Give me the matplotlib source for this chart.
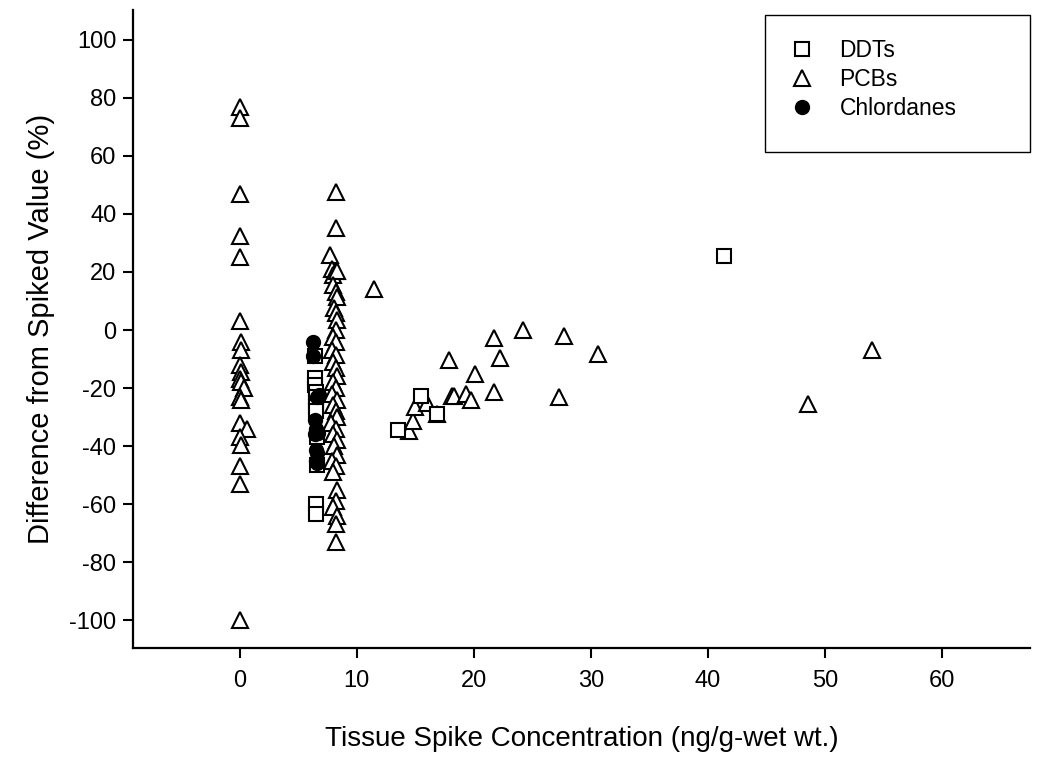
import matplotlib
matplotlib.use("Agg")
import matplotlib.pyplot as plt
from matplotlib.patches import Rectangle

plt.rcParams['font.family'] = ['Liberation Sans', 'DejaVu Sans']

# ---- data ----
ddt_x = [6.4, 6.4, 6.4, 6.5, 6.5, 6.5, 6.5, 6.6, 6.6, 6.5, 6.5, 13.5, 15.5, 16.9, 41.4]
ddt_y = [-9, -16.5, -19, -21.5, -23, -26.5, -28, -37, -46.5, -60, -63.5, -34.5, -22.6, -29, 25.5]

chl_x = [6.3, 6.3, 6.8, 6.6, 6.4, 6.5, 6.7, 6.4, 6.5, 6.6, 6.5, 6.6]
chl_y = [-4.2, -9, -22.5, -23, -31, -34, -35.5, -36, -41.5, -42.5, -45, -46]

pcb_x = [0, 0, 0, 0, 0, 0, 0.1, 0.1, 0, 0.1, 0, 0.1, 0.4, 0, 0.1, 0, 0.6, 0, 0.1, 0, 0, 0,
         8.2, 8.2, 7.7, 7.9, 8.2, 8.0, 8.3, 8.0, 8.2, 8.3, 8.1, 8.2, 8.3, 8.2, 8.0, 8.2,
         7.9, 8.2, 8.0, 8.2, 8.3, 8.0, 8.2, 7.9, 8.3, 8.0, 8.2, 8.3, 7.8, 8.2, 8.0, 8.3,
         8.1, 8.3, 7.9, 8.2, 8.0, 8.3, 8.2, 8.0, 8.3, 8.2, 8.2,
         11.5, 14.5, 14.8, 15.0, 16.0, 16.9, 17.9, 18.1, 18.3, 19.3, 19.8, 20.1, 21.7,
         21.7, 22.2, 24.2, 27.3, 27.7, 30.6, 48.5, 54.0]
pcb_y = [77, 73, 47, 32.5, 25, 3, -4, -7, -12, -14.5, -17, -18, -20, -23, -24, -32, -34,
         -37, -39.5, -47, -53, -100,
         47.5, 35, 26, 21, 20.5, 19, 20.5, 15.5, 13, 11.5, 7.5, 6, 3.5, 0, -2.5, -4,
         -7, -8.5, -11, -13, -16, -18, -20, -22, -24, -26, -28, -30, -32, -34, -36, -38,
         -40, -43, -45, -47, -49, -55, -59, -61, -64, -67, -73,
         14, -34.8, -31.3, -26.4, -25.1, -29, -10.3, -22.8, -22.8, -22.2, -24.1, -15.2,
         -2.9, -21.3, -9.8, 0, -23, -2.1, -8.3, -25.5, -6.9]

series_names = ['DDTs', 'PCBs', 'Chlordanes']
xlabel = 'Tissue Spike Concentration (ng/g-wet wt.)'
ylabel = 'Difference from Spiked Value (%)'
xticks = [0, 10, 20, 30, 40, 50, 60]
yticks = [100, 80, 60, 40, 20, 0, -20, -40, -60, -80, -100]

W, H = 1039, 758
fig = plt.figure(figsize=(W/100, H/100), dpi=100)
ax = fig.add_axes([133/W, 1-648/H, (1030-133)/W, (648-10)/H])

ax.plot(ddt_x, ddt_y, linestyle='none', marker='s', markersize=10,
        markerfacecolor='white', markeredgecolor='black', markeredgewidth=1.5,
        label=series_names[0], zorder=3)
ax.plot(pcb_x, pcb_y, linestyle='none', marker='^', markersize=11,
        markerfacecolor='white', markeredgecolor='black', markeredgewidth=1.5,
        label=series_names[1], zorder=2)
ax.plot(chl_x, chl_y, linestyle='none', marker='o', markersize=10,
        markerfacecolor='black', markeredgecolor='black', markeredgewidth=1.0,
        label=series_names[2], zorder=4)

ax.set_xlim(-9.1, 67.5)
ax.set_ylim(-109.6, 110.3)
ax.set_xticks(xticks)
ax.set_yticks(yticks)
ax.set_yticklabels([str(t) for t in yticks])

for s in ['top', 'right']:
    ax.spines[s].set_visible(False)
for s in ['left', 'bottom']:
    ax.spines[s].set_linewidth(1.6)

ax.tick_params(axis='both', direction='out', length=7, width=1.5, labelsize=17)
ax.tick_params(axis='x', pad=9)
ax.tick_params(axis='y', pad=5)

ax.set_xlabel(xlabel, fontsize=20, labelpad=24)
ax.set_ylabel(ylabel, fontsize=21, labelpad=10)

# legend box drawn as a plain rectangle, entries placed inside it
bx0, by0, bx1, by1 = 765, 15, 1030, 152
ax.add_patch(Rectangle((bx0/W, 1-by1/H), (bx1-bx0)/W, (by1-by0)/H,
                       transform=fig.transFigure, facecolor='white',
                       edgecolor='black', linewidth=1.0, zorder=5, clip_on=False))
leg = ax.legend(loc='upper left', bbox_to_anchor=((bx0-8)/W, 1-by0/H),
                bbox_transform=fig.transFigure, fontsize=16.5, frameon=False,
                borderpad=0.55, labelspacing=0.25, handlelength=1.8, handletextpad=0.75)
leg.set_zorder(6)

fig.savefig('out.png', dpi=100)
